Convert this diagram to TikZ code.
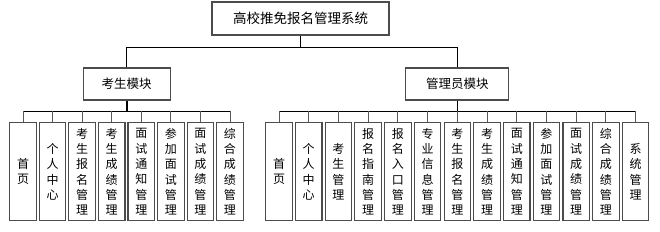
\documentclass[tikz,border=0pt]{standalone}
\usepackage{fontspec}
\setmainfont{Noto Sans CJK SC}
\begin{document}
\begin{tikzpicture}[x=1pt,y=-1pt,
  box/.style={draw=black!70, line width=1.1pt, fill=white, inner sep=0pt, align=center},
  leaf/.style={box, minimum width=26.5pt, minimum height=98pt, font=\fontsize{12}{15.3}\selectfont},
  modbox/.style={box, minimum height=32pt, font=\fontsize{12.5}{15}\selectfont},
  conn/.style={draw=black, line width=0.9pt},
  drop/.style={draw=black!65, line width=0.9pt}]
\useasboundingbox (0,0) rectangle (660,231);
\node[box, minimum width=177pt, minimum height=33pt, font=\fontsize{13.5}{16}\selectfont] (top) at (300.5,18.5) {高校推免报名管理系统};
\node[modbox, minimum width=87pt] (m1) at (126.7,84) {考生模块};
\node[modbox, minimum width=103pt] (m2) at (457.3,84) {管理员模块};
\foreach \t [count=\i] in {{首\\页},{个\\人\\中\\心},{考\\生\\报\\名\\管\\理},{考\\生\\成\\绩\\管\\理},{面\\试\\通\\知\\管\\理},{参\\加\\面\\试\\管\\理},{面\\试\\成\\绩\\管\\理},{综\\合\\成\\绩\\管\\理}}
  {\node[leaf] (L\i) at ({23+(\i-1)*29.57},171.7) {\t};}
\foreach \t [count=\i] in {{首\\页},{个\\人\\中\\心},{考\\生\\管\\理},{报\\名\\指\\南\\管\\理},{报\\名\\入\\口\\管\\理},{专\\业\\信\\息\\管\\理},{考\\生\\报\\名\\管\\理},{考\\生\\成\\绩\\管\\理},{面\\试\\通\\知\\管\\理},{参\\加\\面\\试\\管\\理},{面\\试\\成\\绩\\管\\理},{综\\合\\成\\绩\\管\\理},{系\\统\\管\\理}}
  {\node[leaf] (R\i) at ({279+(\i-1)*29.72},171.7) {\t};}
% top to modules
\draw[conn] (top.south) -- ++(0,12) coordinate (j0);
\draw[conn] (j0) -| (m1.north);
\draw[conn] (j0) -| (m2.north);
% left module bus
\draw[conn, line width=1.6pt] (m1.south) -- ++(0,10.5) coordinate (b1);
\draw[conn] (b1) -| (L1.north);
\draw[conn] (b1) -| (L8.north);
\foreach \i in {1,...,8} {\draw[drop] (L\i.north |- b1) -- (L\i.north);}
% right module bus
\draw[conn, line width=1.6pt] (m2.south) -- ++(0,10.5) coordinate (b2);
\draw[conn] (b2) -| (R1.north);
\draw[conn] (b2) -| (R13.north);
\foreach \i in {1,...,13} {\draw[drop] (R\i.north |- b2) -- (R\i.north);}
\end{tikzpicture}
\end{document}
